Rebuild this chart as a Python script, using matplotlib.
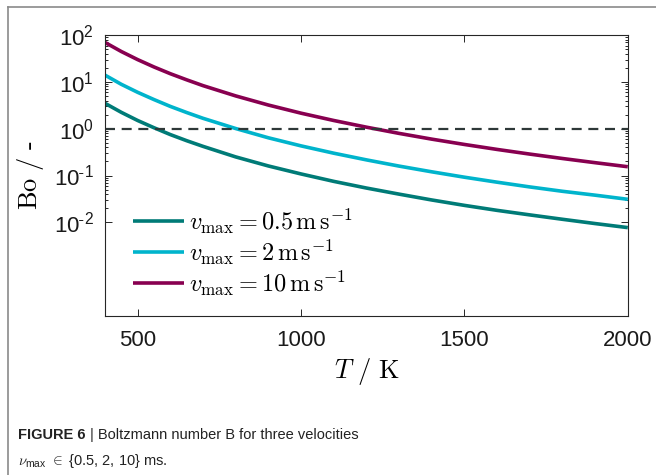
import matplotlib
matplotlib.use("Agg")
import matplotlib.pyplot as plt
from matplotlib.lines import Line2D
from matplotlib.ticker import FixedLocator, NullFormatter

# temperatures in K and Boltzmann number
temps = [400, 450, 500, 550, 600, 650, 700, 800, 900, 1000, 1100, 1200, 1300,
         1400, 1500, 1600, 1700, 1800, 1900, 2000]
bo_10 = [70, 44.7, 30.0, 20.9, 15.0, 11.1, 8.34, 5.03, 3.21, 2.15, 1.50, 1.08,
         0.795, 0.599, 0.461, 0.361, 0.287, 0.231, 0.188, 0.154]
bo_2 = [14, 8.9, 6.0, 4.2, 3.0, 2.22, 1.67, 1.01, 0.64, 0.43, 0.30, 0.216,
        0.159, 0.120, 0.092, 0.072, 0.057, 0.046, 0.038, 0.031]
bo_05 = [3.5, 2.24, 1.5, 1.05, 0.75, 0.555, 0.42, 0.25, 0.16, 0.108, 0.075,
         0.054, 0.040, 0.030, 0.023, 0.018, 0.0144, 0.0116, 0.0094, 0.0077]

labels = [r"$v_\mathrm{max} = 0.5\,\mathrm{m\,s^{-1}}$",
          r"$v_\mathrm{max} = 2\,\mathrm{m\,s^{-1}}$",
          r"$v_\mathrm{max} = 10\,\mathrm{m\,s^{-1}}$"]
colors = ["#007b77", "#00b4cc", "#880050"]
xticks = [500, 1000, 1500, 2000]
ydecades = [-2, -1, 0, 1, 2]

plt.rcParams["mathtext.fontset"] = "cm"
plt.rcParams["font.family"] = ["Liberation Sans", "DejaVu Sans"]

fig = plt.figure(figsize=(6.56, 4.75), dpi=100)
ax = fig.add_axes([0.160, 0.335, 0.797, 0.591])

for ys, c, lab in zip([bo_05, bo_2, bo_10], colors, labels):
    ax.plot(temps, ys, color=c, lw=2.6, label=lab, solid_capstyle="butt")
ax.axhline(1, color="#2e3838", lw=1.6, ls=(0, (4.5, 3)))

ax.set_yscale("log")
ax.set_xlim(400, 2000)
ax.set_ylim(1e-4, 1e2)
ax.set_xticks(xticks)
ax.set_xticklabels([str(t) for t in xticks])
ax.yaxis.set_major_locator(FixedLocator([10.0 ** d for d in ydecades]))
ax.set_yticklabels([r"$\mathregular{10^{%s}}$" % str(d).replace("-", r"\text{-}")
                    for d in ydecades])
minors = [m * 10.0 ** d for d in ydecades[:-1] for m in range(2, 10)]
ax.yaxis.set_minor_locator(FixedLocator(minors))
ax.yaxis.set_minor_formatter(NullFormatter())
ax.tick_params(which="both", direction="in", top=True, right=True,
               labelsize=16, width=0.7, color="#262626", labelcolor="#1a1a1a")
ax.tick_params(which="major", length=5, pad=8)
ax.tick_params(axis="x", which="major", pad=10)
ax.tick_params(which="minor", length=2.5)
for s in ax.spines.values():
    s.set_linewidth(0.8)
    s.set_color("#262626")

ax.set_xlabel(r"$T\ /\ \mathrm{K}$", fontsize=19, labelpad=4)
ax.set_ylabel(r"$\mathrm{Bo}\ /\ \text{-}$", fontsize=19, labelpad=6)

ax.legend(loc="lower left", bbox_to_anchor=(0.035, 0.03), frameon=False,
          fontsize=17.5, handlelength=2.1, handletextpad=0.2, labelspacing=0.05,
          borderaxespad=0)

# page frame
fig.add_artist(Line2D([8 / 656, 1], [1 - 7 / 475] * 2, color="#8a8a8a", lw=1.2))
fig.add_artist(Line2D([8 / 656] * 2, [0, 1 - 7 / 475], color="#8a8a8a", lw=1.2))

# caption
cap_font = ["Liberation Sans Narrow", "Liberation Sans", "DejaVu Sans"]
t1 = fig.text(18 / 656, 1 - 439 / 475, "FIGURE 6", fontsize=10.5,
              fontweight="bold", family=cap_font, color="#222222", va="baseline")
ax.annotate(" | Boltzmann number B for three velocities", xy=(1, 0),
            xycoords=t1, fontsize=10.5, family=cap_font, color="#222222",
            va="bottom", ha="left", annotation_clip=False)
fig.text(18 / 656, 1 - 465 / 475,
         r"$\nu_{\mathregular{max}}$ $\in$ {0.5, 2, 10} ms.", fontsize=10.5,
         family=cap_font, color="#222222", va="baseline")

fig.savefig("out.png", dpi=100)
